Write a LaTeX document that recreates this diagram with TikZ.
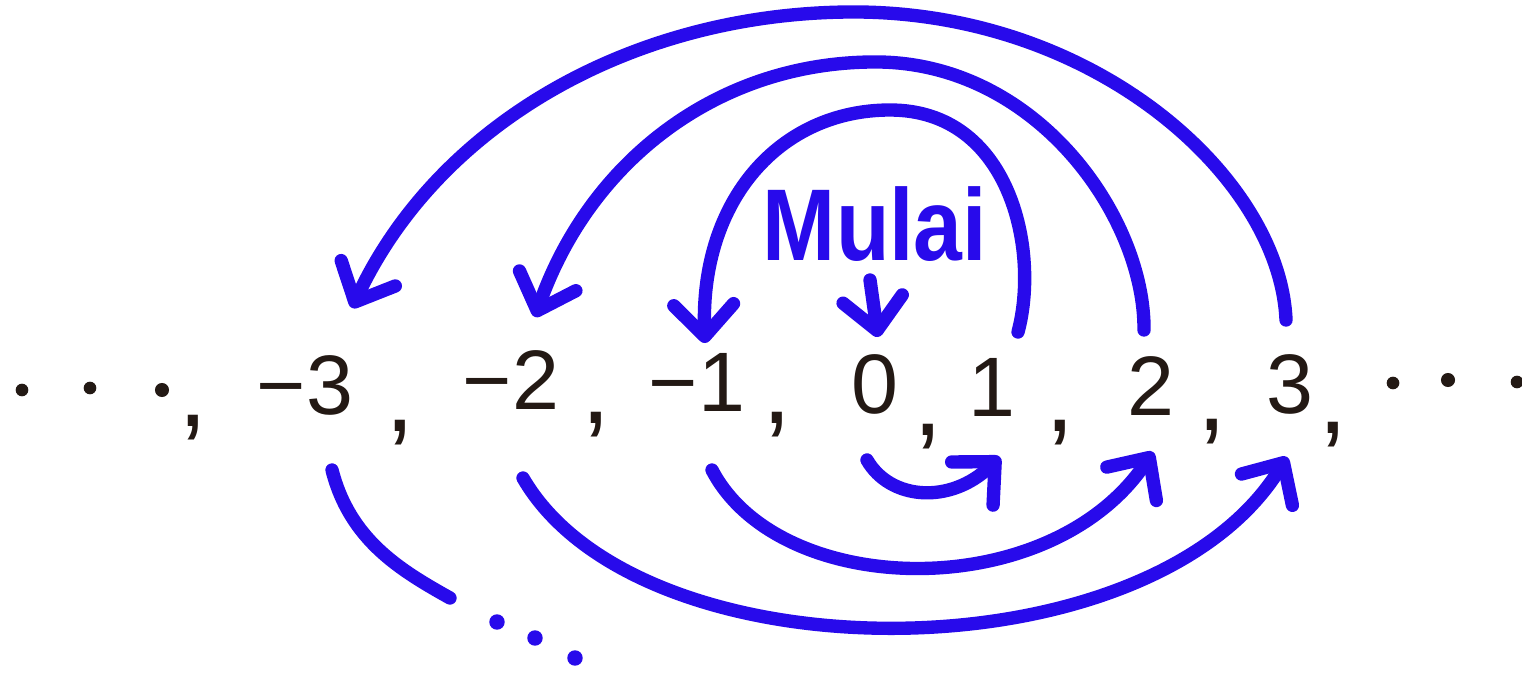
\documentclass[tikz,border=0pt]{standalone}
\usepackage{fontspec}
\setmainfont{Liberation Sans}
\usetikzlibrary{arrows.meta}
\definecolor{pen}{RGB}{40,10,235}
\definecolor{ink}{RGB}{35,25,20}
\begin{document}
\begin{tikzpicture}[x=0.01cm,y=-0.01cm,
  num/.style={text=ink, font=\fontsize{24}{28}\selectfont, inner sep=0pt},
  comma/.style={text=ink, font=\fontsize{30}{34}\selectfont, inner sep=0pt},
  arc/.style={draw=pen, line width=3.8pt, line cap=round, line join=round},
  arr/.style={arc, -{Straight Barb[length=9pt,width=17pt,round]}},
  label/.style={text=pen, font=\fontsize{29}{32}\bfseries\selectfont, inner sep=0pt, xscale=0.86}]
\useasboundingbox (0,0) rectangle (1522,673);

% numbers
\node[num] (m3) at (305,385) {−3};
\node[num] (m2) at (511,380) {−2};
\node[num] (m1) at (697,382) {−1};
\node[num] (z)  at (875,384) {0};
\node[num] (p1) at (992,387) {1};
\node[num] (p2) at (1151,386) {2};
\node[num] (p3) at (1290,384) {3};

% commas
\node[comma] (c0) at (193,428) {,};
\node[comma] (c1) at (400,433) {,};
\node[comma] (c2) at (596,425) {,};
\node[comma] (c3) at (777,425) {,};
\node[comma] (c4) at (928,437) {,};
\node[comma] (c5) at (1060,433) {,};
\node[comma] (c6) at (1212,432) {,};
\node[comma] (c7) at (1333,435) {,};

% ellipsis dots
\fill[ink] (22,390) circle[radius=1.8pt];
\fill[ink] (90,388) circle[radius=1.8pt];
\fill[ink] (162,390) circle[radius=2pt];
\fill[ink] (1393,383) circle[radius=1.8pt];
\fill[ink] (1448,380) circle[radius=2pt];
\fill[ink] (1517,382) circle[radius=1.8pt];
\fill[pen] (497,622) circle[radius=2.2pt];
\fill[pen] (535,638) circle[radius=2.2pt];
\fill[pen] (575,658) circle[radius=2.2pt];

% Mulai
\node[label] (start) at (875,224) {Mulai};
\draw[arr] ([shift={(-5,56)}]start.center) -- ([shift={(3,-47)}]z.center);

% upper arcs
\draw[arr] ([shift={(26,-55)}]p1.center) .. controls (1040,250) and (1010,110) .. (890,110)
   .. controls (780,110) and (700,200) .. ([shift={(8,-39)}]m1.center);
\draw[arr] ([shift={(-7,-56)}]p2.center) .. controls (1145,220) and (1040,65) .. (880,62)
   .. controls (720,60) and (590,160) .. ([shift={(24,-63)}]m2.center);
\draw[arr] ([shift={(-4,-64)}]p3.center) .. controls (1280,180) and (1100,15) .. (860,12)
   .. controls (640,10) and (440,120) .. ([shift={(47,-77)}]m3.center);

% lower arcs
\draw[arr] ([shift={(-8,76)}]z.center) .. controls (890,500) and (950,505) .. ([shift={(8,70)}]p1.center);
\draw[arr] ([shift={(15,88)}]m1.center) .. controls (780,600) and (1050,605) .. ([shift={(2,66)}]p2.center);
\draw[arr] ([shift={(12,98)}]m2.center) .. controls (640,680) and (1150,680) .. ([shift={(-3,73)}]p3.center);
\coordinate (tail) at (450,598);
\draw[arc] ([shift={(27,85)}]m3.center) .. controls (350,540) and (400,570) .. (tail);
\end{tikzpicture}
\end{document}
